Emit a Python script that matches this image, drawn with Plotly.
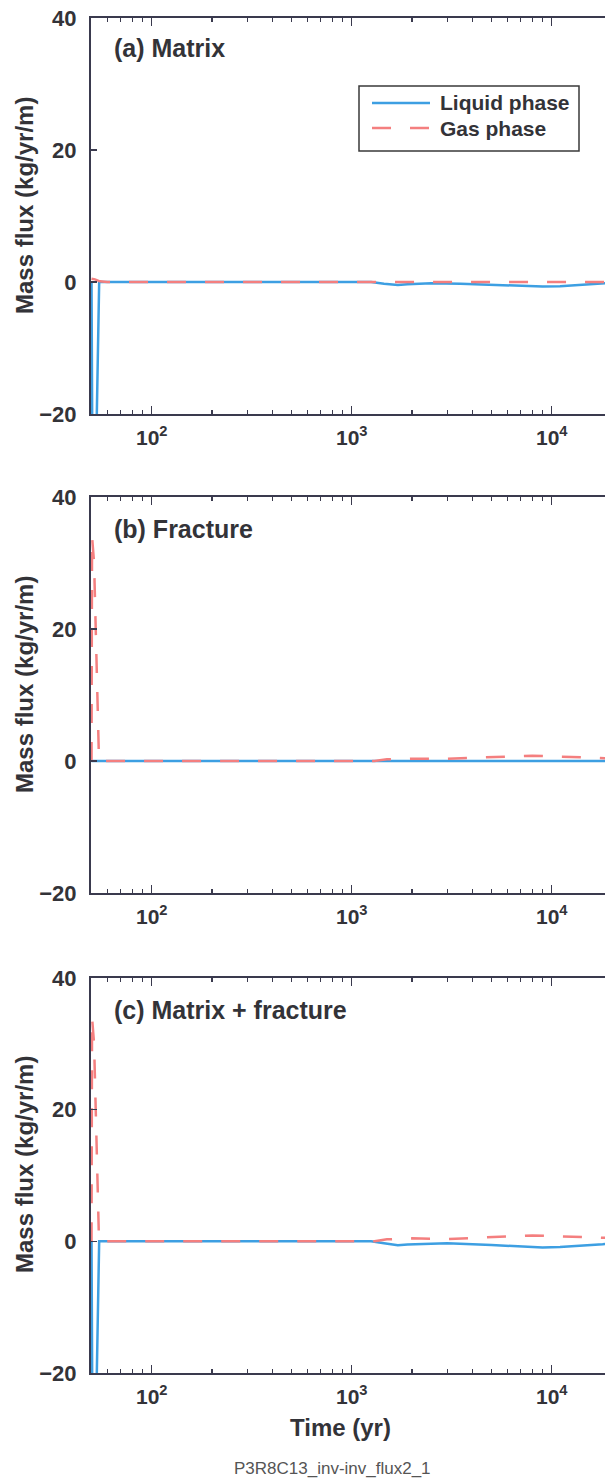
import math
import plotly.graph_objects as go

# ---------------- data ----------------
panel_titles = ["(a) Matrix", "(b) Fracture", "(c) Matrix + fracture"]
series_names = ["Liquid phase", "Gas phase"]
x_tick_values = [100, 1000, 10000]
x_tick_labels = ["10<sup>2</sup>", "10<sup>3</sup>", "10<sup>4</sup>"]
x_minor_values = [60, 70, 80, 90, 200, 300, 400, 500, 600, 700, 800, 900,
                  2000, 3000, 4000, 5000, 6000, 7000, 8000, 9000, 20000]
y_tick_values = [-20, 0, 20, 40]

# (a) Matrix
time_a_liquid = [50, 50.4, 53.0, 54.6, 60, 100, 300, 1000, 1250, 1450, 1700, 1900,
                 2500, 3500, 5000, 7000, 9000, 11000, 14000, 17000, 20000]
flux_a_liquid = [0, -22, -22, 0, 0, 0, 0, 0, 0, -0.25, -0.45, -0.35,
                 -0.2, -0.25, -0.45, -0.6, -0.7, -0.65, -0.4, -0.25, -0.1]
time_a_gas = [50, 52, 55, 60, 100, 300, 1000, 3000, 10000, 20000]
flux_a_gas = [0.5, 0.4, 0.1, 0, 0, 0, 0, 0, 0, 0]

# (b) Fracture
time_b_liquid = [50, 60, 100, 1000, 10000, 20000]
flux_b_liquid = [0, 0, 0, 0, 0, 0]
time_b_gas = [50, 50.3, 51.5, 54.5, 60, 100, 300, 1000, 1300, 1500, 2000,
              3000, 5000, 8000, 10000, 15000, 20000]
flux_b_gas = [0, 34, 30, 0, 0, 0, 0, 0, 0, 0.25, 0.35,
              0.35, 0.55, 0.8, 0.7, 0.5, 0.4]

# (c) Matrix + fracture
time_c_liquid = [50, 50.4, 53.0, 54.6, 60, 100, 300, 1000, 1250, 1450, 1700, 1900,
                 2500, 3000, 5000, 7000, 9000, 11000, 14000, 18000, 20000]
flux_c_liquid = [0, -22, -22, 0, 0, 0, 0, 0, 0, -0.3, -0.6, -0.5,
                 -0.35, -0.3, -0.55, -0.8, -0.95, -0.85, -0.6, -0.45, -0.2]
time_c_gas = [50, 50.3, 51.5, 54.5, 60, 100, 300, 1000, 1300, 1500, 2000,
              3000, 5000, 8000, 10000, 15000, 20000]
flux_c_gas = [0, 34, 30, 0, 0, 0, 0, 0, 0, 0.3, 0.45,
              0.35, 0.6, 0.9, 0.8, 0.6, 0.5]

panels = [
    (time_a_liquid, flux_a_liquid, time_a_gas, flux_a_gas),
    (time_b_liquid, flux_b_liquid, time_b_gas, flux_b_gas),
    (time_c_liquid, flux_c_liquid, time_c_gas, flux_c_gas),
]

# ---------------- styling ----------------
W, H = 605, 1481
FONT = "Liberation Sans, Arial, sans-serif"
TEXT = "#333338"
AXIS = "#3a3a4e"
BLUE = "#3d9fe2"
RED = "#f47f7f"

def px(x):
    return x / W

def py(y):
    return 1 - y / H

# panel pixel extents (top, bottom)
panel_px = [(18, 414), (497, 893), (978, 1373)]
x_left_px = 91

fig = go.Figure()

for i, (tl, fl, tg, fg) in enumerate(panels):
    suffix = "" if i == 0 else str(i + 1)
    fig.add_trace(go.Scatter(x=tl, y=fl, mode="lines", name=series_names[0],
                             line=dict(color=BLUE, width=2.5),
                             xaxis="x" + suffix, yaxis="y" + suffix, showlegend=False))
    fig.add_trace(go.Scatter(x=tg, y=fg, mode="lines", name=series_names[1],
                             line=dict(color=RED, width=2.5, dash="19px,19px"),
                             xaxis="x" + suffix, yaxis="y" + suffix, showlegend=False))

x_lo = math.log10(49.7)
x_hi = x_lo + (W - x_left_px) / 200.0

layout = dict(
    width=W, height=H,
    margin=dict(l=0, r=0, t=0, b=0, pad=0, autoexpand=False),
    paper_bgcolor="white", plot_bgcolor="white",
    font=dict(family=FONT, color=TEXT),
    showlegend=False,
)

for i, (top, bot) in enumerate(panel_px):
    suffix = "" if i == 0 else str(i + 1)
    layout["xaxis" + suffix] = dict(
        type="log", range=[x_lo, x_hi],
        domain=[px(x_left_px), 1],
        anchor="y" + suffix, automargin=False,
        showline=True, linecolor=AXIS, linewidth=2, mirror="allticks",
        ticks="inside", ticklen=8, tickwidth=1.5, tickcolor=AXIS,
        tickmode="array", tickvals=x_tick_values, ticktext=x_tick_labels,
        tickfont=dict(size=21, family=FONT, color=TEXT, weight="bold"),
        ticklabelstandoff=4,
        minor=dict(tickmode="array", tickvals=x_minor_values, ticks="inside",
                   ticklen=4, tickwidth=1.2, tickcolor=AXIS, showgrid=False),
        showgrid=False, zeroline=False, fixedrange=True,
    )
    layout["yaxis" + suffix] = dict(
        range=[-20, 40],
        domain=[py(bot), py(top)],
        anchor="x" + suffix, automargin=False,
        showline=True, linecolor=AXIS, linewidth=2, mirror=False,
        ticks="inside", ticklen=6, tickwidth=1.5, tickcolor=AXIS,
        tickmode="array", tickvals=y_tick_values,
        tickfont=dict(size=22, family=FONT, color=TEXT, weight="bold"),
        ticklabelstandoff=8,
        showgrid=False, zeroline=False, fixedrange=True,
    )

fig.update_layout(**layout)

annotations = []
title_y = [48, 529, 1010]
ytitle_y = [206, 685, 1165]
for i in range(3):
    annotations.append(dict(
        text=panel_titles[i], xref="paper", yref="paper",
        x=px(112), y=py(title_y[i]), xanchor="left", yanchor="middle",
        showarrow=False, font=dict(size=25, family=FONT, color=TEXT, weight="bold")))
    annotations.append(dict(
        text="Mass flux (kg/yr/m)", xref="paper", yref="paper",
        x=px(24), y=py(ytitle_y[i]), xanchor="center", yanchor="middle",
        textangle=-90, showarrow=False,
        font=dict(size=24, family=FONT, color=TEXT, weight="bold")))

annotations.append(dict(
    text="Time (yr)", xref="paper", yref="paper",
    x=px(340), y=py(1427), xanchor="center", yanchor="middle",
    showarrow=False, font=dict(size=24, family=FONT, color=TEXT, weight="bold")))
annotations.append(dict(
    text="P3R8C13_inv-inv_flux2_1", xref="paper", yref="paper",
    x=px(332), y=py(1468), xanchor="center", yanchor="middle",
    showarrow=False, font=dict(size=17, family=FONT, color="#555555")))

# manual legend
legend_rows = [(series_names[0], BLUE, "solid", 103), (series_names[1], RED, "19px,19px", 128)]
shapes = [dict(type="rect", xref="paper", yref="paper",
               x0=px(359), x1=px(579), y0=py(151), y1=py(86),
               line=dict(color="#3a3a3a", width=1.5), fillcolor="white", layer="above")]
for name, color, dash, yy in legend_rows:
    shapes.append(dict(type="line", xref="paper", yref="paper",
                       x0=px(372), x1=px(430), y0=py(yy), y1=py(yy),
                       line=dict(color=color, width=2.5, dash=dash), layer="above"))
    annotations.append(dict(
        text=name, xref="paper", yref="paper",
        x=px(438), y=py(yy), xanchor="left", yanchor="middle",
        showarrow=False, font=dict(size=21, family=FONT, color=TEXT, weight="bold")))

fig.update_layout(annotations=annotations, shapes=shapes)

fig.write_html(
    "out.html",
    config={"displayModeBar": False, "staticPlot": True},
    post_script="document.body.style.margin='0';document.body.style.padding='0';"
                "document.body.style.overflow='hidden';",
)
